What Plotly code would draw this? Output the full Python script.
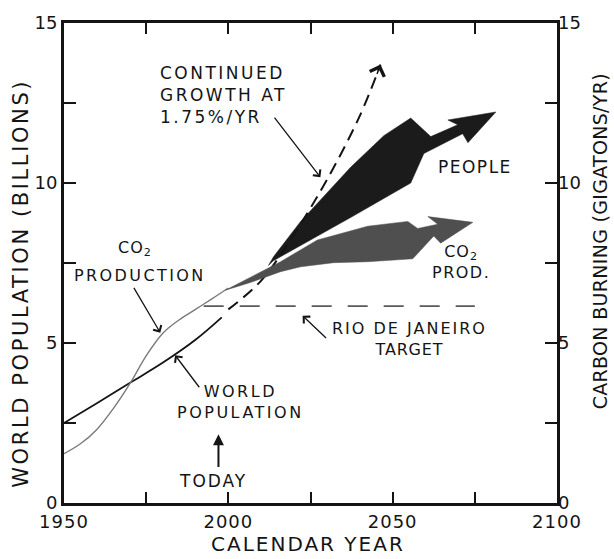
import plotly.graph_objects as go

FONT = "DejaVu Sans"
INK = "#141414"

# World population, billions
pop_years = [1950, 1960, 1970, 1980, 1990, 1998]
pop_values = [2.5, 3.12, 3.75, 4.38, 5.1, 5.8]

# Continued growth at 1.75 %/yr
growth_years = [2000, 2010, 2020, 2030, 2040, 2046.3]
growth_values = [6.05, 6.95, 8.4, 10.1, 12.1, 13.7]

# CO2 production (carbon burning, gigatons/yr)
co2_years = [1950, 1955, 1960, 1965, 1970, 1975, 1980, 1985, 1990, 1995, 2000]
co2_values = [1.54, 1.85, 2.3, 2.95, 3.72, 4.6, 5.3, 5.72, 6.05, 6.38, 6.72]

# Rio de Janeiro target level
rio_years = [1992.5, 2075]
rio_values = [6.15, 6.15]

# Outline of the "PEOPLE" projection fan
people_years = [2012.2, 2013.7, 2022.0, 2030.2, 2037.2, 2047.3, 2055.5, 2061.6,
                2069.8, 2066.8, 2081.4, 2072.9, 2071.3, 2059.5, 2055.5, 2037.2,
                2027.1, 2018.9, 2013.7, 2012.2]
people_values = [7.42, 7.69, 8.80, 9.72, 10.49, 11.48, 12.03, 11.45,
                 11.82, 11.97, 12.22, 11.26, 11.54, 10.92, 10.00, 8.92,
                 8.34, 7.85, 7.57, 7.42]

# Outline of the "CO2 PROD." projection fan
co2_fan_years = [1999.1, 2006.7, 2015.9, 2027.1, 2042.4, 2054.6, 2057.6, 2063.7,
                 2060.7, 2074.4, 2064.6, 2062.5, 2056.1, 2042.4, 2032.0, 2022.0,
                 2015.9, 2006.7, 1999.1]
co2_fan_values = [6.65, 7.05, 7.54, 8.22, 8.65, 8.80, 8.58, 8.71,
                  8.95, 8.77, 8.12, 8.34, 7.63, 7.54, 7.51, 7.38,
                  7.23, 6.89, 6.65]

year_ticks = [1950, 1975, 2000, 2025, 2050, 2075, 2100]
year_labels = ["1950", "", "2000", "", "2050", "", "2100"]
value_ticks = [0, 2.5, 5, 7.5, 10, 12.5, 15]
value_labels = ["0", "", "5", "", "10", "", "15"]
right_ticks = [0, 5, 10, 15]
right_labels = ["0", "5", "10", "15"]


def spaced(text, px):
    return f'<span style="letter-spacing:{px}px">{text}</span>'


fig = go.Figure()

# population-side traces
fig.add_trace(go.Scatter(x=people_years, y=people_values, fill="toself",
                         fillcolor="#1b1b1b", mode="lines",
                         line=dict(color="#1b1b1b", width=0.5),
                         hoverinfo="skip", showlegend=False))
fig.add_trace(go.Scatter(x=pop_years, y=pop_values, mode="lines",
                         line=dict(color=INK, width=1.8, shape="spline"),
                         showlegend=False))
fig.add_trace(go.Scatter(x=growth_years, y=growth_values, mode="lines",
                         line=dict(color=INK, width=2, dash="12px,7px",
                                   shape="spline"),
                         showlegend=False))

# carbon-side traces on the right axis
fig.add_trace(go.Scatter(x=co2_years, y=co2_values, mode="lines", yaxis="y2",
                         line=dict(color="#7a7a7a", width=1.4, shape="spline"),
                         showlegend=False))
fig.add_trace(go.Scatter(x=co2_fan_years, y=co2_fan_values, fill="toself",
                         fillcolor="#4f4f4f", mode="lines", yaxis="y2",
                         line=dict(color="#4f4f4f", width=0.5),
                         hoverinfo="skip", showlegend=False))
fig.add_trace(go.Scatter(x=rio_years, y=rio_values, mode="lines", yaxis="y2",
                         line=dict(color="#5a5a5a", width=1.8, dash="20px,16px"),
                         showlegend=False))

ann = []


def label(text, x, y, size=17, **kw):
    kw.setdefault("xanchor", "center")
    kw.setdefault("yanchor", "middle")
    ann.append(dict(text=text, x=x, y=y, xref="x", yref="y", showarrow=False,
                    font=dict(family=FONT, size=size, color=INK), **kw))


def pointer(hx, hy, tx, ty, head=4, size=1.4, width=1.3):
    ann.append(dict(text="", x=hx, y=hy, ax=tx, ay=ty, xref="x", yref="y",
                    axref="x", ayref="y", showarrow=True, arrowhead=head,
                    arrowsize=size, arrowwidth=width, arrowcolor=INK,
                    standoff=0))


def title(text, x, y, size, angle=0):
    ann.append(dict(text=text, xref="paper", yref="paper", x=x, y=y,
                    xanchor="center", yanchor="middle", textangle=angle,
                    showarrow=False, font=dict(family=FONT, size=size,
                                               color=INK)))


label(spaced("CONTINUED", 2.5) + "<br>" + spaced("GROWTH AT", 2.5) + "<br>"
      + spaced("1.75%/YR", 2.5),
      1978.7, 12.74, xanchor="left", align="left")
label(spaced("PEOPLE", 1.5), 2075.0, 10.49)
label(spaced("CO<sub>2</sub>", 1) + "<br>" + spaced("PROD.", 1.5),
      2070.7, 7.54, size=16, align="center")
label(spaced("CO<sub>2</sub>", 1), 1971.6, 7.94, size=16)
label(spaced("PRODUCTION", 2.4), 1973.2, 7.12, size=16)
label(spaced("WORLD", 2.5) + "<br>" + spaced("POPULATION", 2.5),
      2003.7, 3.17, size=16)
label(spaced("RIO DE JANEIRO", 2) + "<br>" + spaced("TARGET", 0.8),
      2055.2, 5.11, size=16)
label(spaced("TODAY", 2), 1995.4, 0.68)

# pointers
pointer(2028.0, 10.18, 2013.7, 12.09)
pointer(1979.3, 5.32, 1971.0, 6.77)
pointer(1983.8, 4.62, 1991.5, 3.57)
pointer(2022.6, 5.85, 2030.2, 5.11)
pointer(1997.0, 2.15, 1997.0, 1.08, head=2, size=1.1, width=2)

# open arrowhead at the end of the growth curve
ann.append(dict(text="", x=growth_years[-1], y=growth_values[-1], xref="x",
                yref="y", ax=-4, ay=11, showarrow=True, arrowhead=4,
                arrowsize=2.0, arrowwidth=1.5, arrowcolor=INK, standoff=0))

# axis titles
title(spaced("WORLD POPULATION (BILLIONS)", 2.6), -0.087, 0.457, 21, -90)
title(spaced("CARBON BURNING (GIGATONS/YR)", 0.3), 1.089, 0.545, 19, -90)
title(spaced("CALENDAR YEAR", 2), 0.495, -0.086, 20)

axis_common = dict(showgrid=False, zeroline=False, linecolor=INK,
                   tickcolor=INK, tickfont=dict(family=FONT, size=18, color=INK))

fig.update_layout(
    width=614, height=559,
    margin=dict(l=64, r=57, t=15, b=56),
    paper_bgcolor="white", plot_bgcolor="white",
    showlegend=False,
    xaxis=dict(range=[1950, 2100], tickmode="array", tickvals=year_ticks,
               ticktext=[spaced(t, 1) if t else t for t in year_labels],
               ticks="inside", ticklen=11, tickwidth=2,
               showline=True, linewidth=3, mirror="ticks", **axis_common),
    yaxis=dict(range=[0, 15], tickmode="array", tickvals=value_ticks,
               ticktext=value_labels, ticks="inside", ticklen=12, tickwidth=2,
               showline=True, linewidth=3, mirror="ticks", **axis_common),
    yaxis2=dict(range=[0, 15], overlaying="y", side="right", tickmode="array",
                tickvals=right_ticks, ticktext=right_labels, ticks="",
                showline=False, **axis_common),
    annotations=ann,
)

fig.write_html("out.html")
